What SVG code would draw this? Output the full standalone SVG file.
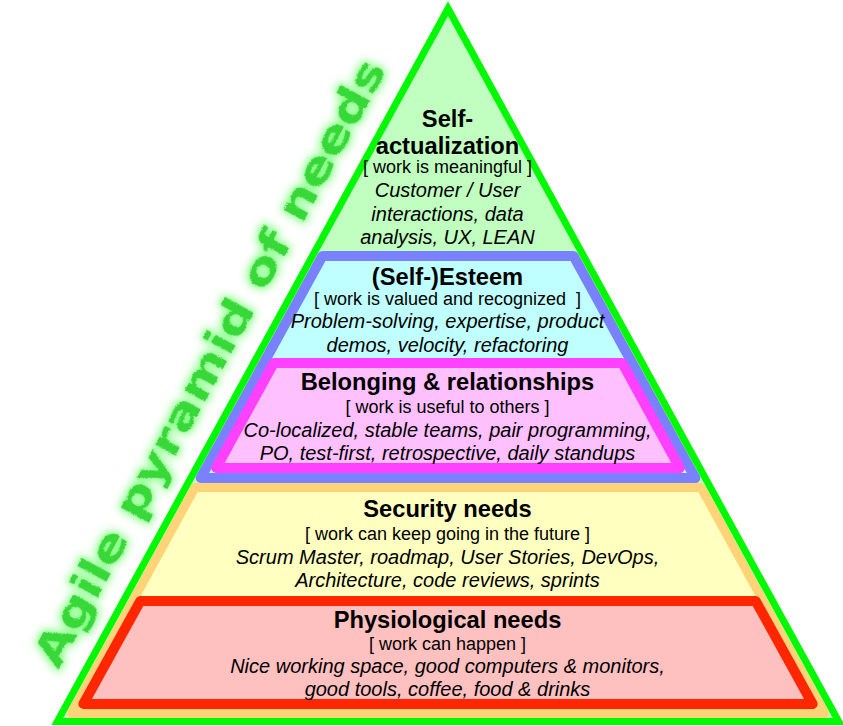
<svg xmlns="http://www.w3.org/2000/svg" width="843" height="726" viewBox="0 0 843 726">
  <defs>
    <filter id="glow" x="-20%" y="-20%" width="140%" height="140%">
      <feTurbulence type="fractalNoise" baseFrequency="0.8" numOctaves="2" seed="3" result="noise"/>
      <feDisplacementMap in="SourceGraphic" in2="noise" scale="3" xChannelSelector="R" yChannelSelector="G" result="rough"/>
      <feMorphology in="rough" operator="dilate" radius="2" result="fat"/>
      <feGaussianBlur in="fat" stdDeviation="4" result="blur"/>
      <feFlood flood-color="#7dff7d" flood-opacity="0.9"/>
      <feComposite in2="blur" operator="in" result="halo"/>
      <feMerge>
        <feMergeNode in="halo"/>
        <feMergeNode in="rough"/>
      </feMerge>
    </filter>
  </defs>
  <style>
    .band { stroke-linejoin: round; }
    .t { font-family: "Liberation Sans", Arial, Helvetica, sans-serif; fill: #000; text-anchor: middle; }
    .h { font-size: 23.7px; font-weight: bold; }
    .b { font-size: 18px; }
    .i { font-size: 20px; font-style: italic; }
    .agile { font-family: "DejaVu Sans", "Liberation Sans", sans-serif; font-size: 42px; font-weight: bold; fill: #38d838; }
  </style>

  <g id="pyramid">
    <polygon points="448,8.5 838.7,721.5 57.3,721.5" fill="#c0ffc0"/>
  </g>

  <g id="esteem">
    <polygon class="band" points="322.4,256 573.6,256 695.3,478 200.7,478" fill="#c0ffff" stroke="#7a81ff" stroke-width="10"/>
  </g>

  <g id="belonging">
    <polygon class="band" points="273.7,363 622.3,363 679.8,468 216.2,468" fill="#ffc0ff" stroke="#ff40ff" stroke-width="10"/>
  </g>

  <g id="security">
    <polygon class="band" points="195,487.5 701,487.5 824.8,713.5 71.2,713.5" fill="#ffffc0" stroke="#ffd479" stroke-width="9"/>
  </g>

  <g id="physiological">
    <polygon class="band" points="140.3,601 755.7,601 812.6,704 83.4,704" fill="#ffc0c0" stroke="#ff2600" stroke-width="10"/>
  </g>

  <g id="outline">
    <polygon points="448,8.5 838.7,721.5 57.3,721.5" fill="none" stroke="#00f900" stroke-width="7"/>
  </g>

  <g id="self-actualization-text">
    <text class="t h" x="447.5" y="127">Self-</text>
    <text class="t h" x="447.5" y="154">actualization</text>
    <text class="t b" x="447.5" y="173">[ work is meaningful ]</text>
    <text class="t i" x="447.5" y="197">Customer / User</text>
    <text class="t i" x="447.5" y="221">interactions, data</text>
    <text class="t i" x="447.5" y="244">analysis, UX, LEAN</text>
  </g>

  <g id="esteem-text">
    <text class="t h" x="447.5" y="285">(Self-)Esteem</text>
    <text class="t b" x="447.5" y="305" xml:space="preserve">[ work is valued and recognized  ]</text>
    <text class="t i" x="447.5" y="328">Problem-solving, expertise, product</text>
    <text class="t i" x="447.5" y="352">demos, velocity, refactoring</text>
  </g>

  <g id="belonging-text">
    <text class="t h" x="447.5" y="390">Belonging &amp; relationships</text>
    <text class="t b" x="447.5" y="413">[ work is useful to others ]</text>
    <text class="t i" x="447.5" y="437">Co-localized, stable teams, pair programming,</text>
    <text class="t i" x="447.5" y="460">PO, test-first, retrospective, daily standups</text>
  </g>

  <g id="security-text">
    <text class="t h" x="447.5" y="517">Security needs</text>
    <text class="t b" x="447.5" y="540">[ work can keep going in the future ]</text>
    <text class="t i" x="447.5" y="564">Scrum Master, roadmap, User Stories, DevOps,</text>
    <text class="t i" x="447.5" y="587">Architecture, code reviews, sprints</text>
  </g>

  <g id="physiological-text">
    <text class="t h" x="447.5" y="628">Physiological needs</text>
    <text class="t b" x="447.5" y="650">[ work can happen ]</text>
    <text class="t i" x="447.5" y="673">Nice working space, good computers &amp; monitors,</text>
    <text class="t i" x="447.5" y="696">good tools, coffee, food &amp; drinks</text>
  </g>

  <g id="title">
    <text class="agile" filter="url(#glow)" transform="translate(58,670) rotate(-61.3)" textLength="685" lengthAdjust="spacingAndGlyphs">Agile pyramid of needs</text>
  </g>
</svg>
